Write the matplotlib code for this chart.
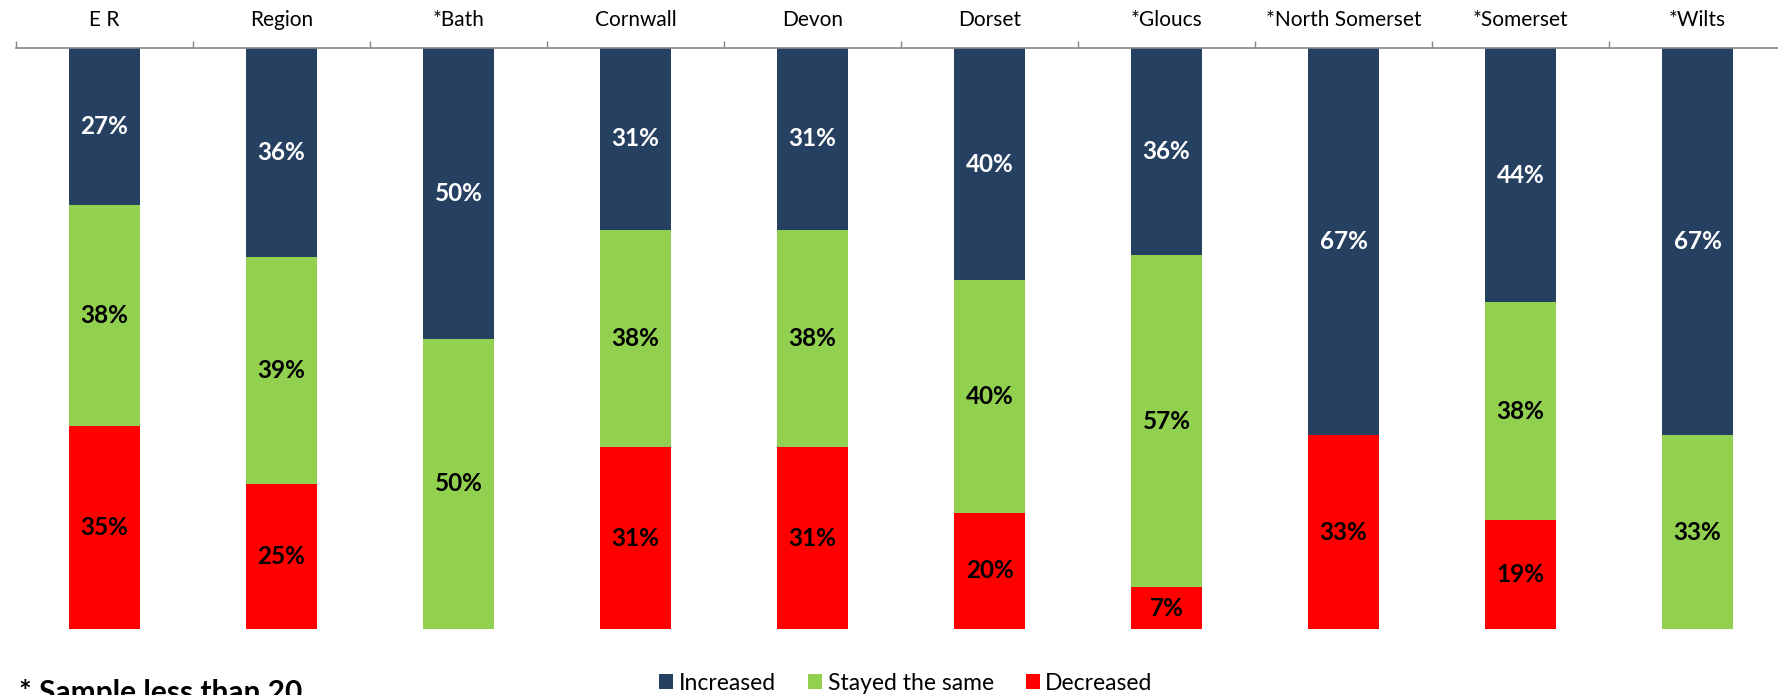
import matplotlib

matplotlib.use("Agg")

import matplotlib.pyplot as plt
import numpy as np
from matplotlib.patches import Patch

plt.rcParams["font.family"] = ["Lato", "DejaVu Sans"]

categories = ["E R", "Region", "*Bath", "Cornwall", "Devon", "Dorset",
              "*Gloucs", "*North Somerset", "*Somerset", "*Wilts"]
increased = [27, 36, 50, 31.25, 31.25, 40, 35.71, 66.67, 43.75, 66.67]
stayed_same = [38, 39, 50, 37.5, 37.5, 40, 57.14, 0, 37.5, 33.33]
decreased = [35, 25, 0, 31.25, 31.25, 20, 7.14, 33.33, 18.75, 0]

series = [
    ("Increased", increased, "#254061", "white"),
    ("Stayed the same", stayed_same, "#92d050", "black"),
    ("Decreased", decreased, "#ff0000", "black"),
]

W, H = 1778, 695
fig = plt.figure(figsize=(W / 100, H / 100), dpi=100)
ax = fig.add_axes([16 / W, 1 - 629 / H, 1770 / W, 581 / H])

x = np.arange(len(categories))
bottom = np.zeros(len(categories))
for name, vals, color, txt_color in series:
    vals = np.array(vals, dtype=float)
    ax.bar(x, vals, 0.4, bottom=bottom, color=color, label=name)
    for xi, b, v in zip(x, bottom, vals):
        if v > 0:
            ax.text(xi, b + v / 2, f"{v:.0f}%", ha="center", va="center",
                    fontsize=17.5, fontweight="bold", color=txt_color)
    bottom += vals

ax.set_xlim(-0.5, len(categories) - 0.5)
ax.set_ylim(100, 0)

# category axis along the top, ticks between the bars
ax.xaxis.tick_top()
ax.set_xticks(x)
ax.set_xticklabels(categories, fontsize=15)
ax.tick_params(axis="x", which="major", length=0, pad=13)
ax.set_xticks(np.arange(len(categories) + 1) - 0.5, minor=True)
ax.tick_params(axis="x", which="minor", length=5, width=1, color="#868686", top=True, bottom=False)
ax.set_yticks([])
for side in ["left", "right", "bottom"]:
    ax.spines[side].set_visible(False)
ax.spines["top"].set_color("#868686")
ax.spines["top"].set_linewidth(1.2)

handles = [Patch(facecolor=c, label=n) for n, _, c, _ in series]
fig.legend(handles=handles, loc="center", bbox_to_anchor=(906 / W, 1 - 683 / H),
           ncol=3, frameon=False, fontsize=16.5, handlelength=0.6, handleheight=0.6,
           handletextpad=0.25, columnspacing=1.4)

fig.text(19 / W, 1 - 679 / H, "* Sample less than 20", ha="left", va="top",
         fontsize=21.5, fontweight="bold")

fig.savefig("out.png", dpi=100)
